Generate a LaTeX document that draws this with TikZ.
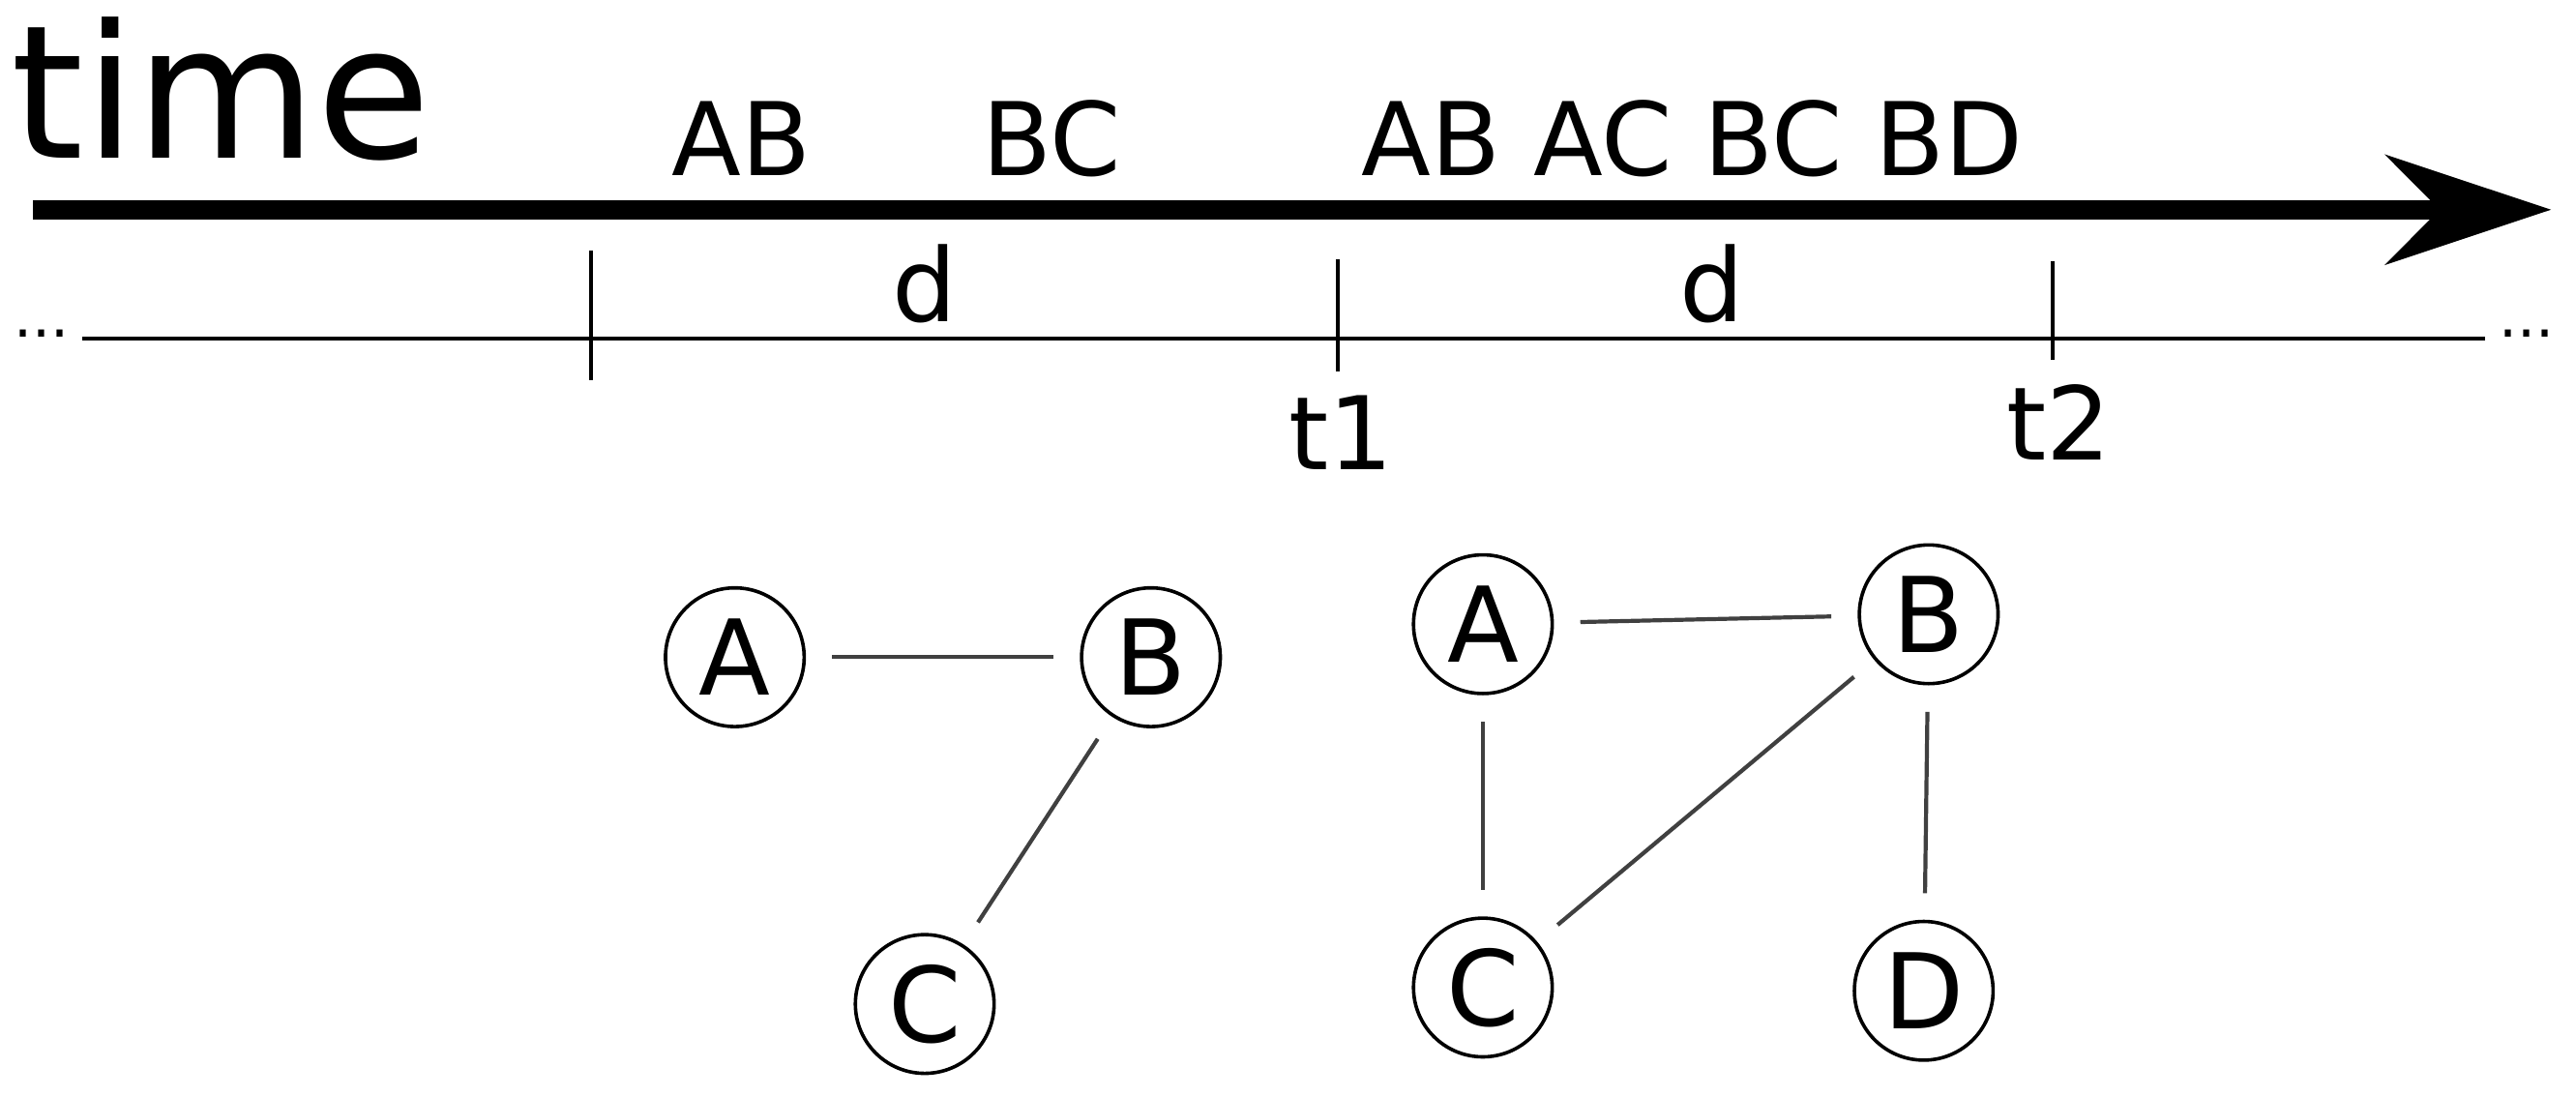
\documentclass[tikz,border=0pt]{standalone}
\usepackage{fontspec}
\setmainfont{DejaVu Sans}
\usetikzlibrary{arrows.meta}
\begin{document}
\begin{tikzpicture}[x=0.1mm,y=-0.1mm,
  vert/.style={circle,draw,line width=0.6pt,minimum size=8.4mm,inner sep=0pt,font=\fontsize{18}{18}\selectfont},
  lbl/.style={font=\fontsize{17.5}{17.5}\selectfont,inner sep=0pt},
  edge/.style={line width=0.7pt,draw=black!75,shorten <=1.6mm,shorten >=1.6mm},
  tick/.style={line width=0.7pt}]
\useasboundingbox (0,0) rectangle (1560,664);
\node[inner sep=0pt,font=\fontsize{32}{32}\selectfont] (time) at (134,54) {time};
\coordinate (a0) at (20,127); \coordinate (a1) at (1545,127);
\draw[line width=3.4pt,-{Stealth[length=10mm,width=6.6mm]}] (a0) -- (a1);
\coordinate (l0) at (50,205); \coordinate (l1) at (1505,205);
\draw[line width=0.7pt] (l0) -- (l1);
\node[font=\fontsize{10}{10}\selectfont,inner sep=0pt] (dl) at (25,202) {...};
\node[font=\fontsize{10}{10}\selectfont,inner sep=0pt] (dr) at (1530,202) {...};
\coordinate (k1a) at (358,152); \coordinate (k1b) at (358,230);
\coordinate (k2a) at (810,157); \coordinate (k2b) at (810,225);
\coordinate (k3a) at (1243,158); \coordinate (k3b) at (1243,218);
\draw[tick] (k1a)--(k1b); \draw[tick] (k2a)--(k2b); \draw[tick] (k3a)--(k3b);
\node[lbl] (d1) at (560,172) {d};
\node[lbl] (d2) at (1037,172) {d};
\node[lbl] (t1) at (812,262) {t1};
\node[lbl] (t2) at (1247,256) {t2};
\node[lbl] (e1) at (449,84) {AB};
\node[lbl] (e2) at (637,84) {BC};
\node[lbl] (e3) at (1025,84) {AB AC BC BD};
\node[vert] (A1) at (445,398) {A};
\node[vert] (B1) at (697,398) {B};
\node[vert] (C1) at (560,608) {C};
\draw[edge] (A1)--(B1); \draw[edge] (B1)--(C1);
\node[vert] (A2) at (898,378) {A};
\node[vert] (B2) at (1168,372) {B};
\node[vert] (C2) at (898,598) {C};
\node[vert] (D2) at (1165,600) {D};
\draw[edge] (A2)--(B2); \draw[edge] (A2)--(C2); \draw[edge] (B2)--(C2); \draw[edge] (B2)--(D2);
\end{tikzpicture}
\end{document}
